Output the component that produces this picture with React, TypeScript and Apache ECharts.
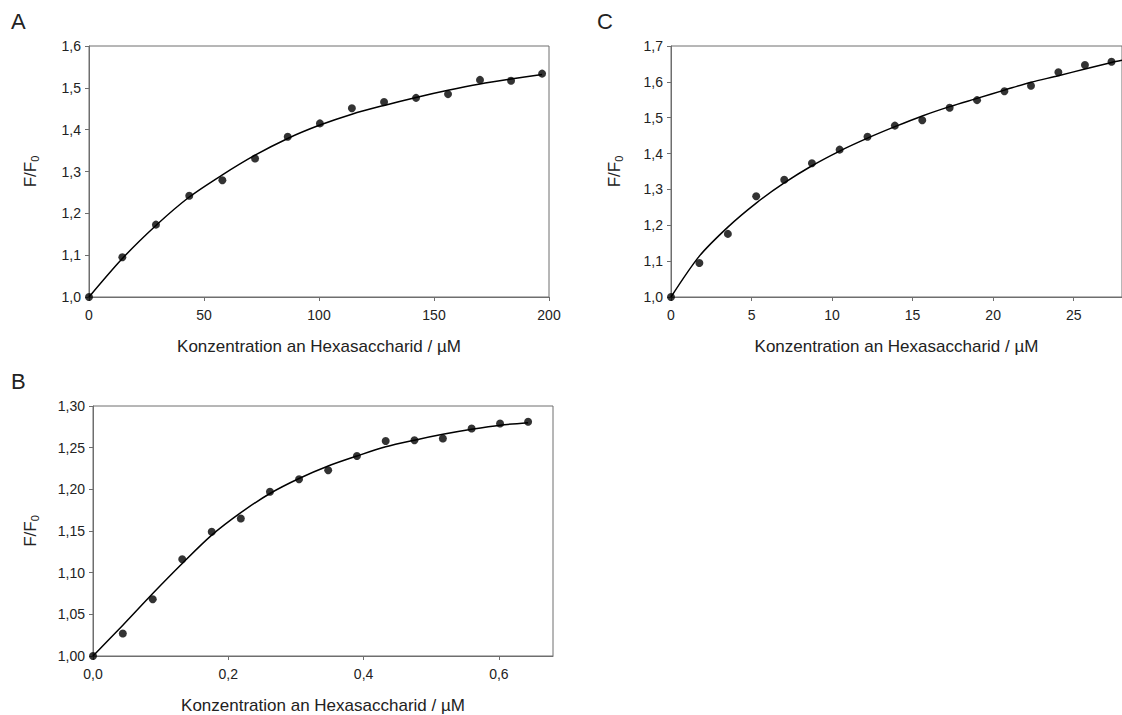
import React, { useEffect, useRef } from "react";
import * as echarts from "echarts";

// Panel A
const aX = [0, 14.5, 29.1, 43.6, 58, 72.2, 86.4, 100.4, 114.3, 128.3, 142.2, 156.1, 170, 183.5, 197];
const aY = [1.0, 1.095, 1.173, 1.242, 1.279, 1.331, 1.383, 1.415, 1.451, 1.466, 1.476, 1.485, 1.519, 1.517, 1.534];
const aFitX = [0, 14.5, 29.1, 43.6, 58, 72.2, 86.4, 100.4, 114.3, 128.3, 142.2, 156.1, 170, 183.5, 197];
const aFitY = [1.0, 1.092, 1.171, 1.239, 1.292, 1.339, 1.379, 1.411, 1.437, 1.458, 1.477, 1.494, 1.509, 1.521, 1.532];
const aXTicks = [0, 50, 100, 150, 200];
const aYTicks = [1.0, 1.1, 1.2, 1.3, 1.4, 1.5, 1.6];

// Panel B
const bX = [0, 0.0441, 0.0883, 0.1319, 0.1755, 0.2185, 0.2616, 0.3046, 0.3477, 0.3902, 0.4327, 0.4752, 0.5172, 0.5597, 0.6017, 0.6432];
const bY = [1.0, 1.027, 1.068, 1.116, 1.149, 1.165, 1.197, 1.212, 1.223, 1.24, 1.258, 1.259, 1.261, 1.273, 1.279, 1.281];
const bFitX = [0, 0.0441, 0.0883, 0.1319, 0.1755, 0.2185, 0.2616, 0.3046, 0.3477, 0.3902, 0.4327, 0.4752, 0.5172, 0.5597, 0.6017, 0.6432];
const bFitY = [1.0, 1.037, 1.075, 1.111, 1.145, 1.172, 1.195, 1.213, 1.228, 1.24, 1.251, 1.259, 1.266, 1.272, 1.277, 1.28];
const bXTicks = [0, 0.2, 0.4, 0.6];
const bYTicks = [1.0, 1.05, 1.1, 1.15, 1.2, 1.25, 1.3];

// Panel C
const cX = [0, 1.76, 3.53, 5.29, 7.03, 8.75, 10.47, 12.2, 13.9, 15.6, 17.3, 19.0, 20.7, 22.35, 24.05, 25.7, 27.35];
const cY = [1.0, 1.095, 1.176, 1.281, 1.327, 1.373, 1.411, 1.447, 1.478, 1.493, 1.528, 1.549, 1.574, 1.589, 1.627, 1.647, 1.656];
const cFitX = [0, 1.76, 3.53, 5.29, 7.03, 8.75, 10.47, 12.2, 13.9, 15.6, 17.3, 19.0, 20.7, 22.35, 24.05, 25.7, 27.35, 28];
const cFitY = [1.0, 1.114, 1.195, 1.262, 1.318, 1.366, 1.407, 1.443, 1.475, 1.505, 1.531, 1.554, 1.577, 1.599, 1.617, 1.636, 1.654, 1.66];
const cXTicks = [0, 5, 10, 15, 20, 25];
const cYTicks = [1.0, 1.1, 1.2, 1.3, 1.4, 1.5, 1.6, 1.7];

const xTitle = "Konzentration an Hexasaccharid / µM";
const FONT = "'Liberation Sans', Arial, sans-serif";
const AXIS_COLOR = "#6e6e6e";
const TEXT_COLOR = "#222";

const comma = (d: number) => (v: number) => v.toFixed(d).replace(".", ",");

function pairs(xs: number[], ys: number[]) {
  return xs.map((x, i) => [x, ys[i]]);
}

function xAxis(gridIndex: number, min: number, max: number, ticks: number[], dec: number) {
  return {
    type: "value",
    gridIndex,
    min,
    max,
    name: xTitle,
    nameLocation: "middle",
    nameGap: 41,
    nameTextStyle: { fontSize: 17, color: TEXT_COLOR, fontFamily: FONT },
    axisLine: { show: true, lineStyle: { color: AXIS_COLOR, width: 1 } },
    axisTick: { show: true, length: 4, customValues: ticks, lineStyle: { color: AXIS_COLOR } },
    axisLabel: {
      customValues: ticks,
      formatter: comma(dec),
      fontSize: 14,
      color: TEXT_COLOR,
      fontFamily: FONT,
      margin: 11,
    },
    splitLine: { show: false },
  };
}

function yAxis(gridIndex: number, min: number, max: number, ticks: number[], dec: number, gap: number) {
  return {
    type: "value",
    gridIndex,
    min,
    max,
    name: "{a|F/F}{b|0}",
    nameLocation: "middle",
    nameRotate: 90,
    nameGap: gap,
    nameTextStyle: {
      color: TEXT_COLOR,
      fontFamily: FONT,
      rich: {
        a: { fontSize: 17, color: TEXT_COLOR, fontFamily: FONT },
        b: { fontSize: 11, color: TEXT_COLOR, fontFamily: FONT, padding: [9, 0, 0, 0] },
      },
    },
    axisLine: { show: true, lineStyle: { color: AXIS_COLOR, width: 1 } },
    axisTick: { show: true, length: 4, customValues: ticks, lineStyle: { color: AXIS_COLOR } },
    axisLabel: {
      customValues: ticks,
      formatter: comma(dec),
      fontSize: 14,
      color: TEXT_COLOR,
      fontFamily: FONT,
      margin: 8,
    },
    splitLine: { show: false },
  };
}

function fitSeries(idx: number, data: number[][]) {
  return {
    type: "line",
    xAxisIndex: idx,
    yAxisIndex: idx,
    data,
    smooth: 0.3,
    showSymbol: false,
    symbol: "none",
    lineStyle: { color: "#000", width: 1.5 },
    z: 2,
  };
}

function dotSeries(idx: number, data: number[][]) {
  return {
    type: "scatter",
    xAxisIndex: idx,
    yAxisIndex: idx,
    data,
    symbol: "circle",
    symbolSize: 8,
    itemStyle: { color: "#000" },
    z: 3,
  };
}

export default function App() {
  const ref = useRef<HTMLDivElement>(null);

  useEffect(() => {
    if (!ref.current) return;
    const chart = echarts.init(ref.current, null, { renderer: "svg" });
    const gridStyle = { show: true, borderColor: AXIS_COLOR, borderWidth: 1, backgroundColor: "transparent", containLabel: false };
    chart.setOption({
      animation: false,
      backgroundColor: "#fff",
      grid: [
        { left: 89, top: 46, width: 460, height: 251, ...gridStyle },
        { left: 93, top: 406, width: 460, height: 251, ...gridStyle },
        { left: 671, top: 46, width: 460, height: 251, ...gridStyle },
      ],
      xAxis: [
        xAxis(0, 0, 200, aXTicks, 0),
        xAxis(1, 0, 0.68, bXTicks, 1),
        xAxis(2, 0, 28, cXTicks, 0),
      ],
      yAxis: [
        yAxis(0, 1.0, 1.6, aYTicks, 1, 49),
        yAxis(1, 1.0, 1.3, bYTicks, 2, 53),
        yAxis(2, 1.0, 1.7, cYTicks, 1, 47),
      ],
      series: [
        fitSeries(0, pairs(aFitX, aFitY)),
        dotSeries(0, pairs(aX, aY)),
        fitSeries(1, pairs(bFitX, bFitY)),
        dotSeries(1, pairs(bX, bY)),
        fitSeries(2, pairs(cFitX, cFitY)),
        dotSeries(2, pairs(cX, cY)),
      ],
      graphic: [
        { type: "text", left: 11, top: 10, style: { text: "A", fontSize: 22, fill: TEXT_COLOR, fontFamily: FONT } },
        { type: "text", left: 11, top: 370, style: { text: "B", fontSize: 22, fill: TEXT_COLOR, fontFamily: FONT } },
        { type: "text", left: 597, top: 10, style: { text: "C", fontSize: 22, fill: TEXT_COLOR, fontFamily: FONT } },
      ],
    });
    return () => chart.dispose();
  }, []);

  return (
    <div
      ref={ref}
      style={{ position: "absolute", left: 0, top: 0, width: 1122, height: 715, overflow: "hidden" }}
    />
  );
}
